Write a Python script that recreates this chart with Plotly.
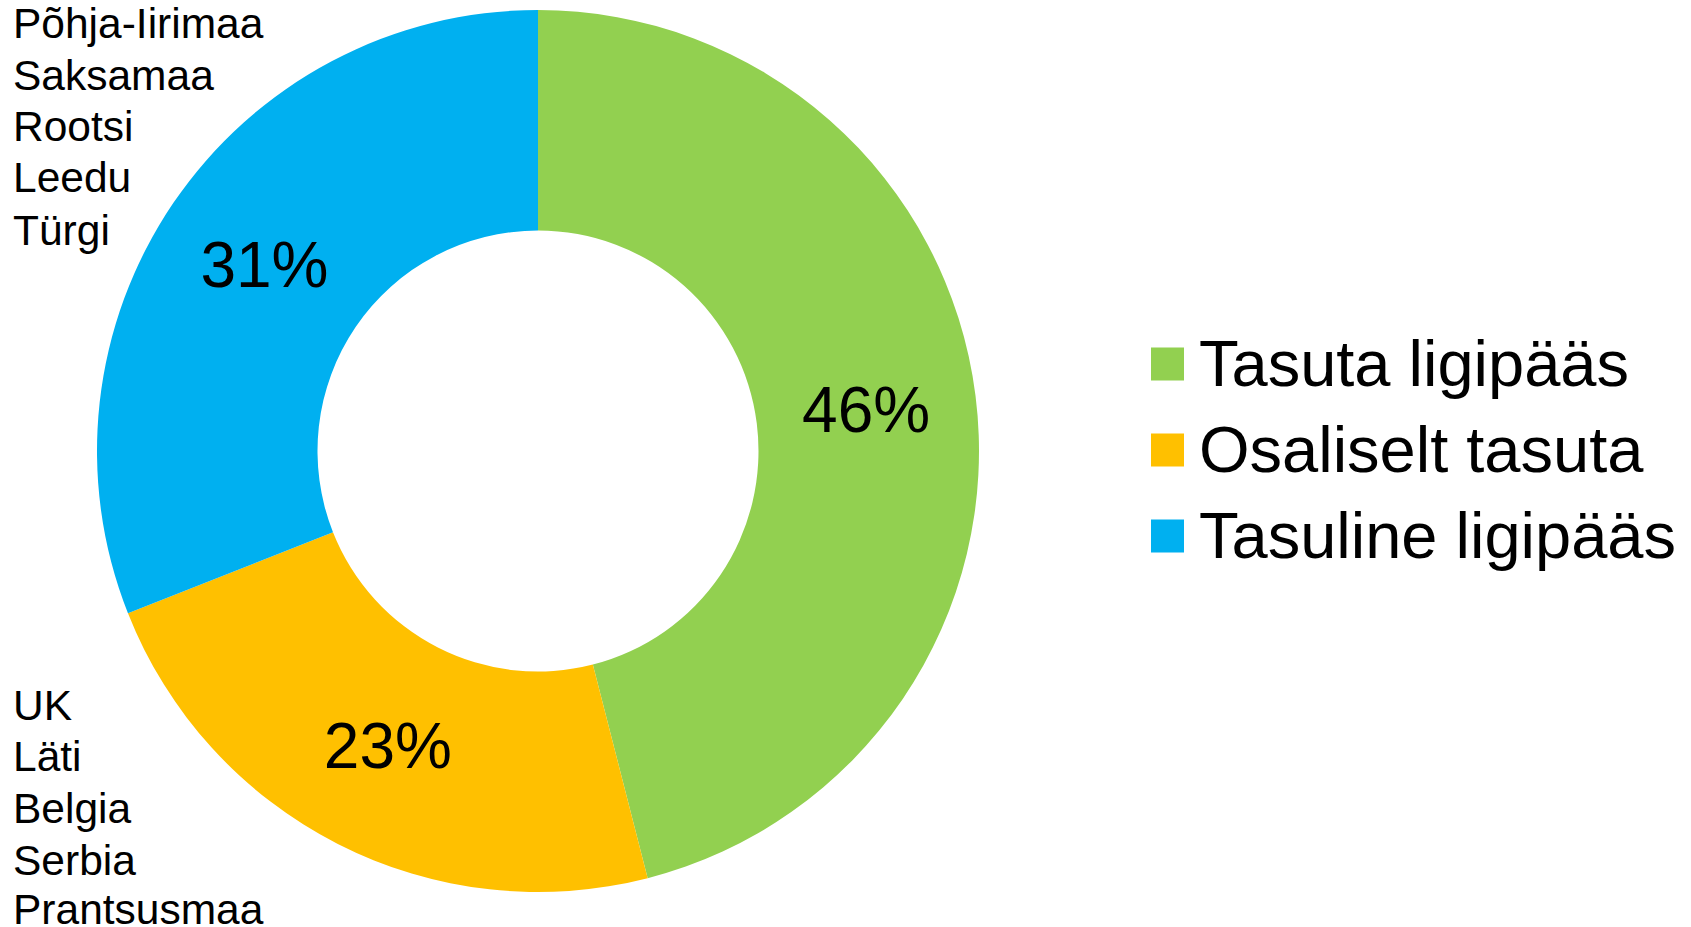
import plotly.graph_objects as go

# ---- data ----
categories = ["Tasuta ligipääs", "Osaliselt tasuta", "Tasuline ligipääs"]
values = [46, 23, 31]
colors = ["#92D050", "#FFC000", "#00B0F0"]
countries_paid = ["Põhja-Iirimaa", "Saksamaa", "Rootsi", "Leedu", "Türgi"]
countries_partial = ["UK", "Läti", "Belgia", "Serbia", "Prantsusmaa"]

W, H = 1691, 927
FONT = "Liberation Sans, Arial, sans-serif"

fig = go.Figure(
    go.Pie(
        labels=categories,
        values=values,
        hole=0.5,
        sort=False,
        direction="clockwise",
        rotation=0,
        marker=dict(colors=colors, line=dict(width=0)),
        textinfo="percent",
        textposition="inside",
        insidetextorientation="horizontal",
        textfont=dict(size=64, color="black", family=FONT),
        domain=dict(x=[97 / W, 979 / W], y=[35 / H, 917 / H]),
        showlegend=False,
        hoverinfo="label+percent",
    )
)

shapes = []
annotations = []

# custom legend
leg_centers = [364, 450, 536]
for cat, col, cy in zip(categories, colors, leg_centers):
    shapes.append(dict(type="rect", xref="paper", yref="paper",
                       x0=1151 / W, x1=1184 / W,
                       y0=1 - (cy + 16.5) / H, y1=1 - (cy - 16.5) / H,
                       fillcolor=col, line=dict(width=0)))
    annotations.append(dict(text=cat, xref="paper", yref="paper",
                            x=1197 / W, y=1 - (cy - 1) / H, xanchor="left", yanchor="middle",
                            showarrow=False, font=dict(size=65, color="black", family=FONT)))

# country lists
top_centers = [23.7, 75.5, 127, 178, 230]
bot_centers = [705, 756, 808, 860, 909]
for name, cy in zip(countries_paid, top_centers):
    annotations.append(dict(text=name, xref="paper", yref="paper",
                            x=11 / W, y=1 - cy / H, xanchor="left", yanchor="middle",
                            showarrow=False, font=dict(size=42.5, color="black", family=FONT)))
for name, cy in zip(countries_partial, bot_centers):
    annotations.append(dict(text=name, xref="paper", yref="paper",
                            x=11 / W, y=1 - cy / H, xanchor="left", yanchor="middle",
                            showarrow=False, font=dict(size=42.5, color="black", family=FONT)))

fig.update_layout(
    width=W, height=H,
    margin=dict(l=0, r=0, t=0, b=0),
    paper_bgcolor="white", plot_bgcolor="white",
    shapes=shapes, annotations=annotations,
    showlegend=False,
)

fig.write_html("out.html", config={"displayModeBar": False},
               post_script="document.body.style.margin='0';document.body.style.overflow='hidden';")
